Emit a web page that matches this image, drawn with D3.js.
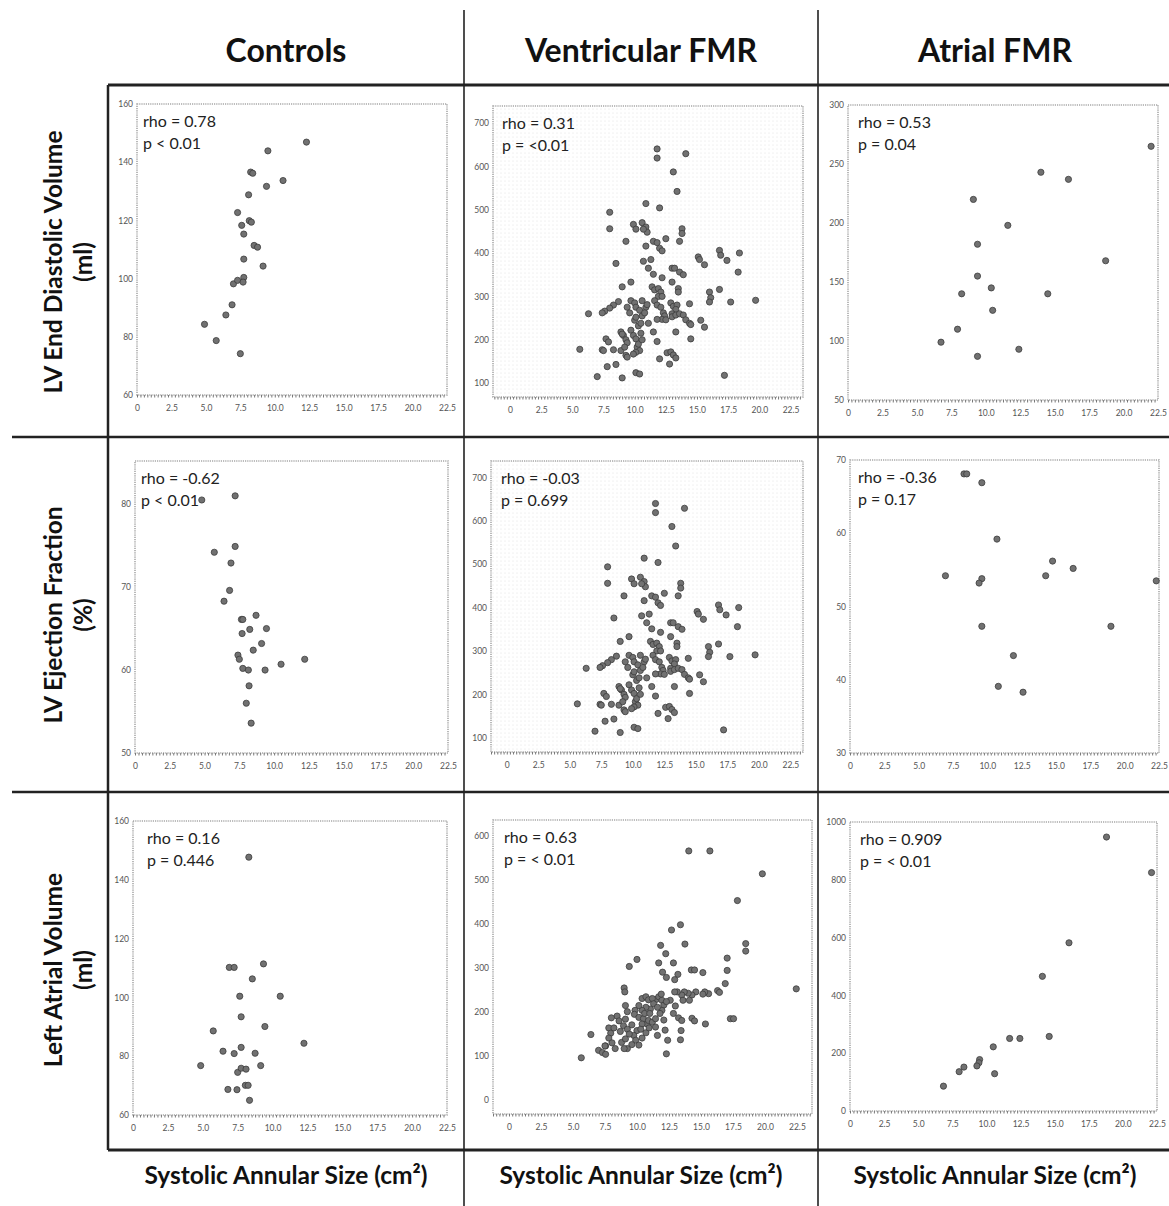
<!DOCTYPE html>
<html>
<head>
<meta charset="utf-8">
<script src="https://d3js.org/d3.v7.min.js"></script>
<style>
body { margin: 0; background: #fff; }
svg { display: block; font-family: Lato, "Open Sans", sans-serif; }
</style>
</head>
<body>
<script>
// column / row titles
const groups = ["Controls", "Ventricular FMR", "Atrial FMR"];
const measures = [["LV End Diastolic Volume", "(ml)"], ["LV Ejection Fraction", "(%)"], ["Left Atrial Volume", "(ml)"]];
const xTitle = "Systolic Annular Size (cm\u00B2)";

// x ticks shared by all panels
const xTicks = [0, 2.5, 5, 7.5, 10, 12.5, 15, 17.5, 20, 22.5];

// stats text per panel (row by row)
const rhoText = ["rho = 0.78", "rho = 0.31", "rho = 0.53",
                 "rho = -0.62", "rho = -0.03", "rho = -0.36",
                 "rho = 0.16", "rho = 0.63", "rho = 0.909"];
const pText = ["p < 0.01", "p = <0.01", "p = 0.04",
               "p < 0.01", "p = 0.699", "p = 0.17",
               "p = 0.446", "p = < 0.01", "p = < 0.01"];

// [annular size, value]
const controlsEDV = [[12.3,146.9],[9.5,143.9],[8.25,136.6],[8.4,136.2],[10.6,133.7],[9.4,131.7],[8.1,128.8],[7.3,122.7],
  [8.15,119.9],[8.3,119.4],[7.6,118.3],[7.75,115.3],[8.5,111.4],[8.75,110.8],[7.75,106.7],[9.15,104.3],[7.0,98.2],
  [7.3,99.4],[7.75,100.4],[7.7,98.8],[6.9,91.0],[6.45,87.5],[4.9,84.3],[5.75,78.7],[7.5,74.2]];

const ventEDV = [[11.8,640],[11.8,619],[14.1,629],[13.1,587],[13.4,542],[10.9,514],[12.0,504],[8.0,494],[8.0,456],
  [9.9,466],[10.6,470],[10.1,455],[10.9,460],[11.0,448],[10.7,455],
  [13.8,456],[13.8,445],[12.5,433],[13.6,427],[9.3,427],[11.5,427],[11.8,424],[12.0,411],[12.2,405],[10.9,416],
  [8.5,376],[11.3,385],[10.7,381],[11.1,365],[11.5,351],[12.2,343],[13.0,365],[13.2,365],[13.6,356],[13.9,350],
  [15.1,391],[15.2,385],[15.6,373],[16.8,406],[16.9,395],[17.4,383],[18.4,400],[18.3,356],
  [11.4,322],[11.6,315],[11.9,318],[12.1,310],[11.9,300],[12.2,300],[9.7,333],[9.0,322],[13.0,333],[13.5,318],[13.5,310],
  [16.0,310],[16.1,297],[16.0,287],[16.8,316],[17.7,287],[19.7,291],[14.4,283],
  [8.7,288],[8.3,280],[8.0,273],[7.6,266],[7.4,262],[6.3,260],
  [9.7,290],[10.0,285],[10.1,275],[10.4,268],[10.9,275],[11.0,281],[10.6,290],[9.4,275],[9.6,262],
  [11.6,290],[11.8,280],[12.1,275],[12.3,262],[12.4,255],[12.2,247],[11.8,247],
  [12.9,285],[13.1,277],[13.4,280],[13.3,270],[13.0,260],
  [12.5,246],[13.0,253],[13.3,257],[13.6,260],[13.9,257],
  [14.1,246],[14.4,238],[14.5,235],[15.3,245],[15.6,229],[14.5,202],[13.3,218],[11.5,218],[11.8,196],
  [12.0,156],[12.6,170],[12.9,172],[13.1,165],[12.8,144],[13.3,158],
  [10.1,124],[10.4,121],[9.0,112],[7.0,115],[7.8,138],[8.5,143],
  [5.6,178],[7.4,177],[7.5,175],[8.3,177],[8.9,175],[9.3,164],[9.4,160],
  [7.7,202],[7.9,195],
  [8.9,218],[9.1,210],[9.3,200],[9.4,193],[9.2,183],[9.0,213],
  [9.7,222],[9.9,210],[10.1,202],[10.2,183],[10.4,175],[10.1,171],[9.9,167],[10.3,190],
  [10.3,232],[10.5,238],[10.6,255],[10.8,262],[11.1,238],[10.0,245],[10.1,252],[10.5,215],[10.6,200],
  [17.2,118]];

const atrialEDV = [[22.0,265],[14.0,243],[16.0,237],[9.1,220],[11.6,198],[9.4,182],[18.7,168],[9.4,155],[10.4,145],
  [8.25,140],[14.5,140],[10.5,126],[7.95,110],[6.75,99],[12.4,93],[9.4,87]];

const controlsEF = [[4.8,80.5],[7.2,81.0],[7.2,74.9],[5.7,74.2],[6.9,72.9],[6.8,69.6],[6.4,68.3],[7.65,66.1],[7.75,66.1],
  [8.7,66.6],[8.25,64.9],[9.45,65.0],[7.7,64.4],[9.1,63.2],[8.5,62.4],[7.4,61.8],[7.5,61.3],[7.75,60.2],[8.15,60.0],
  [9.35,60.0],[10.5,60.7],[12.2,61.3],[8.2,58.1],[8.0,56.0],[8.35,53.6]];

// the source figure repeats the ventricular scatter in the EF row
const ventEF = ventEDV;

const atrialEF = [[8.3,68.1],[8.5,68.1],[9.6,66.9],[10.7,59.2],[14.75,56.2],[16.25,55.2],[6.95,54.2],[14.25,54.2],
  [9.6,53.8],[9.4,53.2],[22.3,53.5],[9.6,47.3],[19.0,47.3],[11.9,43.3],[10.8,39.1],[12.6,38.3]];

const controlsLAV = [[8.3,147.7],[6.9,110.2],[7.25,110.2],[9.35,111.4],[8.55,106.3],[7.65,100.4],[10.55,100.4],[7.75,93.4],
  [5.75,88.6],[9.45,90.1],[12.25,84.4],[6.45,81.7],[7.25,80.9],[7.75,83.0],[8.75,81.0],[4.85,76.8],[9.15,76.8],
  [7.5,74.5],[7.75,75.9],[8.1,75.6],[8.05,70.1],[8.25,70.1],[6.8,68.7],[7.45,68.6],[8.35,65.0]];

const ventLAV = [[14.05,566],[15.7,566],[19.8,514],[17.85,453],[13.4,398],[12.7,386],[18.5,355],[18.5,338],[13.75,354],
  [11.85,351],[12.25,332],[9.4,303],[10.0,319],[11.7,311],[12.85,311],[17.05,322],[17.05,294],[14.25,295],[14.5,295],
  [15.15,289],[12.0,290],[12.3,278],[13.2,285],[12.95,273],[22.45,252],[16.9,264],[16.3,248],[16.45,244],[15.6,241],
  [15.3,245],[15.15,240],
  [14.6,245],[14.3,238],[14.0,242],[13.7,245],[13.5,238],[13.15,245],[12.95,245],[13.6,226],[14.1,226],
  [12.6,226],[13.0,213],[12.85,196],[13.25,186],[13.5,180],[13.45,157],[13.4,136],
  [11.5,228],[11.7,234],[11.95,226],[12.1,215],[11.95,203],[11.8,196],[12.1,181],[12.2,158],[12.4,135],[12.3,104],
  [14.3,185],[14.5,179],[15.35,172],[17.3,184],[17.55,184],
  [10.4,230],[10.7,234],[10.9,227],[11.2,230],[11.3,218],[11.05,206],[10.7,210],[10.4,203],[10.15,214],[9.85,203],
  [9.8,194],[10.15,187],[10.5,184],[10.8,172],[10.9,180],[10.4,172],[10.0,157],[9.75,146],[9.9,135],[10.15,124],
  [10.4,140],[10.7,152],[10.95,163],[11.2,176],[11.45,184],[11.45,165],[11.6,146],
  [10.6,196],[11.0,196],[11.6,210],[12.3,223],[11.9,240],[9.6,170],[10.3,160],[8.7,155],[8.8,130],[9.6,125],
  [9.0,254],[9.05,245],[9.1,214],[9.25,200],[9.1,183],[8.95,168],[9.25,160],[9.4,149],[9.1,138],[9.25,116],[9.0,116],
  [8.45,190],[8.6,179],[8.0,186],[7.8,163],[7.95,151],[7.8,140],[7.55,122],[8.05,129],[8.3,116],[8.2,163],
  [6.4,148],[7.0,112],[7.3,107],[7.55,103],[7.5,122],
  [5.65,95]];

const atrialLAV = [[18.8,948],[22.1,825],[16.05,582],[14.1,466],[14.6,258],[11.7,251],[12.45,251],[10.5,222],
  [9.5,178],[9.45,167],[9.3,156],[8.35,152],[8.0,136],[10.6,129],[6.85,86]];

const panelData = [controlsEDV, ventEDV, atrialEDV, controlsEF, ventEF, atrialEF, controlsLAV, ventLAV, atrialLAV];

// layout: plot frame [left, top, right, bottom], x/y domains covering that frame
const layout = [
  {box:[137,104,447,395], x:[0,22.5],     y:[60,160],    yTicks:d3.range(60,161,20),   tdx:6,  dots:false},
  {box:[493,106,803,397], x:[-1.36,23.5], y:[68,739],    yTicks:d3.range(100,701,100), tdx:9,  dots:true},
  {box:[848,105,1158,400],x:[0,22.5],     y:[50,300],    yTicks:d3.range(50,301,50),   tdx:10, dots:false},
  {box:[135,461,448,753], x:[0,22.5],     y:[50,85.2],   yTicks:d3.range(50,81,10),    tdx:6,  dots:false},
  {box:[491,461,803,752], x:[-1.25,23.5], y:[67,738],    yTicks:d3.range(100,701,100), tdx:10, dots:true},
  {box:[850,460,1159,753],x:[0,22.5],     y:[30,70],     yTicks:d3.range(30,71,10),    tdx:8,  dots:false},
  {box:[133,821,447,1115],x:[0,22.5],     y:[60,160],    yTicks:d3.range(60,161,20),   tdx:14, dots:false},
  {box:[493,820,812,1114],x:[-1.25,23.68],y:[-33,636.5], yTicks:d3.range(0,601,100),   tdx:11, dots:false},
  {box:[850,822,1157,1111],x:[0,22.5],    y:[0,1000],    yTicks:d3.range(0,1001,200),  tdx:10, dots:false}
];

const W = 1169, H = 1206;
const svg = d3.select("body").append("svg").attr("width", W).attr("height", H);

// faint dotted fill used behind the ventricular scatter
const pat = svg.append("defs").append("pattern")
  .attr("id", "dotfill").attr("width", 4).attr("height", 4).attr("patternUnits", "userSpaceOnUse");
pat.append("rect").attr("width", 4).attr("height", 4).attr("fill", "#fff");
pat.append("circle").attr("cx", 1).attr("cy", 1).attr("r", 0.6).attr("fill", "#e2e2e2");

// each panel
layout.forEach((p, i) => {
  const [l, t, r, b] = p.box;
  const x = d3.scaleLinear().domain(p.x).range([l, r]);
  const y = d3.scaleLinear().domain(p.y).range([b, t]);
  const g = svg.append("g");

  g.append("rect")
    .attr("x", l).attr("y", t).attr("width", r - l).attr("height", b - t)
    .attr("fill", p.dots ? "url(#dotfill)" : "#fff")
    .attr("stroke", "#a8a8a8").attr("stroke-width", 1.6).attr("stroke-dasharray", "1.2,1");

  // minor ticks along bottom
  const minor = d3.range(Math.ceil(p.x[0] * 4) / 4, p.x[1], 0.25);
  g.append("g")
    .attr("transform", `translate(0,${b})`)
    .call(d3.axisBottom(x).tickValues(minor).tickSize(2.5).tickFormat(""))
    .call(a => a.select(".domain").remove())
    .call(a => a.selectAll("line").attr("stroke", "#777"));

  // x labels
  g.append("g")
    .attr("transform", `translate(0,${b})`)
    .call(d3.axisBottom(x).tickValues(xTicks).tickSize(0).tickPadding(10)
      .tickFormat(d => d === 0 ? "0" : d3.format(".1f")(d)))
    .call(a => a.select(".domain").remove())
    .call(a => a.selectAll("text").attr("font-size", 8.5).attr("fill", "#555").attr("font-family", "Lato, sans-serif"));

  // y labels
  g.append("g")
    .attr("transform", `translate(${l},0)`)
    .call(d3.axisLeft(y).tickValues(p.yTicks).tickSize(0).tickPadding(4).tickFormat(d3.format("d")))
    .call(a => a.select(".domain").remove())
    .call(a => a.selectAll("text").attr("font-size", 8.5).attr("fill", "#555").attr("font-family", "Lato, sans-serif"));

  g.append("g").selectAll("circle")
    .data(panelData[i])
    .enter().append("circle")
    .attr("cx", d => x(d[0]))
    .attr("cy", d => y(d[1]))
    .attr("r", 3.1)
    .attr("fill", "#717171")
    .attr("stroke", "#3c3c3c")
    .attr("stroke-width", 0.8);

  g.append("text").attr("x", l + p.tdx).attr("y", t + 23)
    .attr("font-size", 16).attr("fill", "#222").text(rhoText[i]);
  g.append("text").attr("x", l + p.tdx).attr("y", t + 45)
    .attr("font-size", 16).attr("fill", "#222").text(pText[i]);
});

// grid lines of the figure table
const lines = [
  [108, 85, 1169, 85, 3],
  [12, 437, 1169, 437, 2.5],
  [12, 792, 1169, 792, 2.5],
  [108, 1150, 1169, 1150, 3],
  [108, 85, 108, 1150, 2.5],
  [464, 10, 464, 1206, 1.6],
  [818, 10, 818, 1206, 1.6]
];
svg.append("g").selectAll("line")
  .data(lines)
  .enter().append("line")
  .attr("x1", d => d[0]).attr("y1", d => d[1])
  .attr("x2", d => d[2]).attr("y2", d => d[3])
  .attr("stroke", "#222").attr("stroke-width", d => d[4]);

const colCenters = [286, 641, 995];
svg.append("g").selectAll("text")
  .data(groups)
  .enter().append("text")
  .attr("x", (d, i) => colCenters[i]).attr("y", 62)
  .attr("text-anchor", "middle").attr("font-size", 32).attr("font-weight", 700).attr("fill", "#111")
  .text(d => d);

svg.append("g").selectAll("text")
  .data(groups)
  .enter().append("text")
  .attr("x", (d, i) => colCenters[i]).attr("y", 1184)
  .attr("text-anchor", "middle").attr("font-size", 24.5).attr("font-weight", 700).attr("fill", "#111")
  .text(xTitle);

const rowCenters = [262, 615, 970];
measures.forEach((m, i) => {
  const g = svg.append("g");
  g.append("text")
    .attr("transform", `translate(62,${rowCenters[i]}) rotate(-90)`)
    .attr("text-anchor", "middle").attr("font-size", 24.5).attr("font-weight", 700).attr("fill", "#111")
    .text(m[0]);
  g.append("text")
    .attr("transform", `translate(92,${rowCenters[i]}) rotate(-90)`)
    .attr("text-anchor", "middle").attr("font-size", 24.5).attr("font-weight", 700).attr("fill", "#111")
    .text(m[1]);
});
</script>
</body>
</html>
